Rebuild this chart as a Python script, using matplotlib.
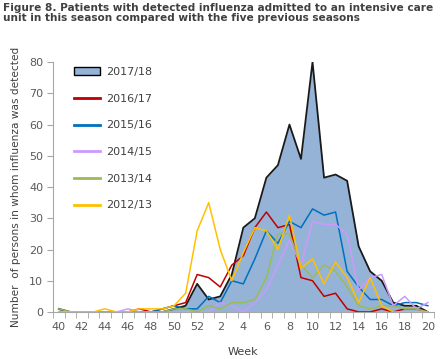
import numpy as np
import matplotlib.pyplot as plt
from matplotlib.patches import Patch
from matplotlib.lines import Line2D

weeks = [40, 41, 42, 43, 44, 45, 46, 47, 48, 49, 50, 51, 52,
         1, 2, 3, 4, 5, 6, 7, 8, 9, 10, 11, 12, 13, 14, 15, 16, 17, 18, 19, 20]

s1718 = [1, 0, 0, 0, 0, 0, 0, 0, 0, 0, 1, 2, 9, 4, 5, 12, 27, 30, 43, 47, 60, 49, 80,
         43, 44, 42, 21, 13, 10, 3, 2, 2, 0]
s1617 = [0, 0, 0, 0, 0, 0, 0, 1, 0, 1, 2, 3, 12, 11, 8, 15, 18, 27, 32, 27, 28, 11, 10,
         5, 6, 1, 0, 0, 1, 0, 1, 1, 0]
s1516 = [0, 0, 0, 0, 0, 0, 0, 0, 0, 1, 2, 1, 1, 5, 3, 10, 9, 17, 26, 22, 29, 27, 33,
         31, 32, 13, 8, 4, 4, 2, 3, 3, 2]
s1415 = [0, 0, 0, 0, 0, 0, 1, 0, 0, 0, 0, 0, 0, 0, 3, 2, 0, 3, 7, 15, 23, 15, 29,
         28, 28, 25, 7, 11, 12, 2, 5, 1, 3]
s1314 = [1, 0, 0, 0, 0, 0, 0, 0, 0, 0, 1, 1, 0, 2, 1, 3, 3, 4, 11, 25, 25, 15, 11,
         15, 13, 8, 2, 1, 2, 2, 1, 1, 0]
s1213 = [0, 0, 0, 0, 1, 0, 0, 1, 1, 1, 2, 6, 26, 35, 20, 10, 19, 27, 26, 20, 31, 14, 17,
         9, 16, 11, 3, 11, 2, 0, 0, 0, 0]

line_series = [('2016/17', s1617, '#C00000'),
               ('2015/16', s1516, '#0070C0'),
               ('2014/15', s1415, '#CC99FF'),
               ('2013/14', s1314, '#9BBB59'),
               ('2012/13', s1213, '#FFC000')]

title = ('Figure 8. Patients with detected influenza admitted to an intensive care\n'
         'unit in this season compared with the five previous seasons')

grey = '#595959'
axis_col = '#A6A6A6'

fig = plt.figure(figsize=(4.4, 3.59), dpi=100)
ax = fig.add_axes([0.1205, 0.131, 0.865, 0.696])

x = np.arange(len(weeks))
ax.fill_between(x, s1718, 0, color='#95B3D7', lw=0)
ax.plot(x, s1718, color='#1a1a1a', lw=1.3)
for name, vals, col in line_series:
    ax.plot(x, vals, color=col, lw=1.1)

ax.set_xlim(-0.5, len(weeks) - 0.5)
ax.set_ylim(0, 80)

ax.set_xticks(x[::2])
ax.set_xticklabels([str(w) for w in weeks[::2]])
ax.set_xticks(np.arange(-0.5, len(weeks)), minor=True)
ax.tick_params(axis='x', which='major', length=0, pad=7, labelsize=8, labelcolor=grey)
ax.tick_params(axis='x', which='minor', length=4, color=axis_col)
ax.set_yticks(range(0, 81, 10))
ax.tick_params(axis='y', length=4, color=axis_col, labelsize=8, labelcolor=grey, pad=3)

for side in ['top', 'right']:
    ax.spines[side].set_visible(False)
for side in ['left', 'bottom']:
    ax.spines[side].set_color(axis_col)

ax.set_xlabel('Week', fontsize=8, color='#404040', labelpad=11)
ax.set_ylabel('Number  of persons in whom influenza was detected', fontsize=7.6,
              color='#404040', labelpad=6)

handles = [Patch(facecolor='#95B3D7', edgecolor='black', lw=1.0, label='2017/18')]
for name, vals, col in line_series:
    handles.append(Line2D([0], [0], color=col, lw=2, label=name))
leg = ax.legend(handles=handles, loc='upper left', bbox_to_anchor=(0.03, 1.02),
                frameon=False, fontsize=8, labelspacing=1.5, handlelength=2.3,
                handleheight=0.7, handletextpad=0.55)
for t in leg.get_texts():
    t.set_color('#404040')

fig.text(0.006, 0.993, title, ha='left', va='top', fontsize=7.6,
         fontweight='bold', color='#404040', linespacing=1.05)

fig.savefig('out.png', dpi=100)
